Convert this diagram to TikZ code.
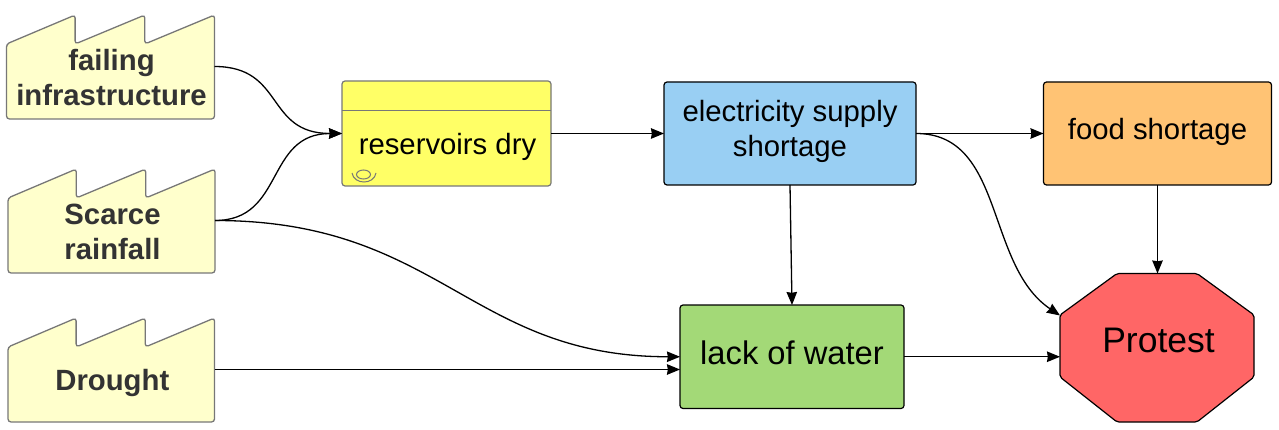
\documentclass[tikz,border=0pt]{standalone}
\usepackage{fontspec}
\setmainfont{Liberation Sans}
\usetikzlibrary{arrows.meta}
\definecolor{factfill}{HTML}{FFFFCC}
\definecolor{edgegray}{HTML}{777777}
\definecolor{facttext}{HTML}{333333}
\definecolor{resfill}{HTML}{FFFF66}
\definecolor{elecfill}{HTML}{99CFF3}
\definecolor{foodfill}{HTML}{FFC374}
\definecolor{waterfill}{HTML}{A3D977}
\definecolor{protfill}{HTML}{FF6666}
\newcommand{\factoryshape}[3]{% x, y of top-left, width
  \draw[factline,shift={(#1,#2)}] (0,104) -- (0,29) -- (#3*0.33,0) -- (#3*0.33,29)
    -- (#3*0.665,0) -- (#3*0.665,29) -- (#3,0) -- (#3,104) -- cycle;}
\tikzset{
  factline/.style={fill=factfill,draw=edgegray,line width=1.3pt,rounded corners=3pt},
  blank/.style={inner sep=0pt,outer sep=0pt,minimum width=#1,minimum height=104pt},
  facttxt/.style={font=\bfseries\fontsize{29.3}{35}\selectfont,text=facttext,align=center,inner sep=0pt,xshift=1pt},
  boxstyle/.style={draw=black,line width=1.2pt,rounded corners=3pt,inner sep=0pt,outer sep=0pt},
  boxtxt/.style={font=\fontsize{29.3}{35}\selectfont,align=center,inner sep=0pt},
  arrow/.style={draw=black,line width=1.3pt,-{Stealth[length=13pt,width=10.5pt,inset=0.8pt]}}
}
\begin{document}
\begin{tikzpicture}[x=1pt,y=-1pt]
\useasboundingbox (0,0) rectangle (1279,430);
% factories
\factoryshape{6.5}{15}{208}
\factoryshape{8}{169}{207}
\factoryshape{8}{318}{206.5}
\node[blank=208pt,label={[facttxt,yshift=-11.5pt]center:failing\\infrastructure}] (fail) at (110.5,66.5) {};
\node[blank=207pt,label={[facttxt,yshift=-11.5pt]center:Scarce\\rainfall}] (rain) at (111.5,220.5) {};
\node[blank=206.5pt,label={[facttxt,yshift=-13pt]center:Drought}] (drought) at (111.3,369.5) {};
% reservoirs
\node[boxstyle,draw=edgegray,fill=resfill,minimum width=209pt,minimum height=105pt,
  label={[boxtxt,xshift=1pt,yshift=-13pt]center:reservoirs dry}] (res) at (446.5,133.5) {};
\draw[edgegray,line width=1.2pt] (342,110.5) -- (551,110.5);
\draw[edgegray,line width=1pt] (363.5,174.5) ellipse (7pt and 4.5pt);
\draw[edgegray,line width=1pt] (352,173) .. controls (354,185) and (374,185) .. (376,173);
% boxes
\node[boxstyle,fill=elecfill,minimum width=252pt,minimum height=103pt,
  label={[boxtxt,yshift=2pt]center:electricity supply\\shortage}] (elec) at (790,133.5) {};
\node[boxstyle,fill=foodfill,minimum width=228pt,minimum height=103pt,
  label={[boxtxt,yshift=1.5pt]center:food shortage}] (food) at (1157.5,133.5) {};
\node[boxstyle,fill=waterfill,minimum width=224pt,minimum height=103.5pt,
  label={[boxtxt,font=\fontsize{32.7}{38}\selectfont,yshift=3.5pt]center:lack of water}] (water) at (792,356.75) {};
% protest
\draw[fill=protfill,draw=black,line width=1.2pt,rounded corners=2pt]
  (1117,273.5) -- (1197,273.5) -- (1254,315) -- (1254,377) -- (1197,422) -- (1117,422) -- (1060,377) -- (1060,315) -- cycle;
\node[inner sep=0pt,outer sep=0pt,minimum width=194pt,minimum height=148.5pt,
  label={[font=\fontsize{35.5}{40}\selectfont,inner sep=0pt,xshift=1pt,yshift=7pt]center:Protest}] (protest) at (1157.5,347.75) {};
\coordinate (protA) at (1060,315.5);
\coordinate (protB) at (1060,356.75);
% connectors
\draw[arrow] (fail.east) .. controls (285,66.5) and (265,133.5) .. (res.west);
\draw[arrow] (rain.east) .. controls (285,220.5) and (265,133.5) .. (res.west);
\draw[arrow] (rain.east) .. controls (440,220.5) and (470,356.75) .. (water.west);
\draw[arrow] (drought.east) -- (water.west |- drought.east);
\draw[arrow] (res.east) -- (elec.west);
\draw[arrow] (elec.east) -- (food.west);
\draw[arrow] (elec.east) .. controls (1005,133.5) and (985,265) .. (protA);
\draw[arrow] (elec.south) -- (water.north);
\draw[arrow] (food.south) -- (protest.north);
\draw[arrow] (water.east) -- (protB);
\end{tikzpicture}
\end{document}
